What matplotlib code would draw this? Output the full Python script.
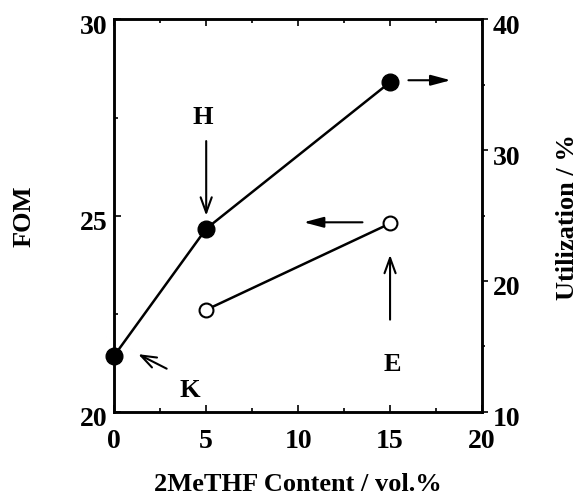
import matplotlib
matplotlib.use("Agg")
import matplotlib.pyplot as plt
from matplotlib.transforms import ScaledTranslation

plt.rcParams.update({
    "font.family": "serif",
    "font.serif": ["Liberation Serif", "DejaVu Serif"],
    "font.weight": "bold",
    "axes.labelweight": "bold",
    "font.size": 20,
})

# data
content_util = [0, 5, 15]
utilization = [14.3, 24.0, 35.2]
content_fom = [5, 15]
fom = [22.6, 24.8]

xticks = [0, 5, 10, 15, 20]
fom_ticks = [20, 25, 30]
util_ticks = [10, 20, 30, 40]

fig = plt.figure(figsize=(5.86, 4.98), dpi=100)
ax = fig.add_axes([0.195, 0.173, 0.6275, 0.788])
ax2 = ax.twinx()

# utilization (right axis), filled markers
ax2.plot(content_util, utilization, color="black", lw=1.8, marker="o",
         ms=12, mfc="black", mec="black", clip_on=False, zorder=3)
# FOM (left axis), open markers
ax.plot(content_fom, fom, color="black", lw=1.8, marker="o",
        ms=10, mfc="white", mec="black", mew=1.5, zorder=3)

ax.set_xlim(0, 20)
ax.set_ylim(20, 30)
ax2.set_ylim(10, 40)
ax.set_xticks(xticks)
ax.set_xticks([2.5, 7.5, 12.5, 17.5], minor=True)
ax.set_yticks(fom_ticks)
ax.set_yticks([22.5, 27.5], minor=True)
ax2.set_yticks(util_ticks)
ax2.set_yticks([15, 25, 35], minor=True)

for a in (ax, ax2):
    for s in a.spines.values():
        s.set_linewidth(1.8)

ax.tick_params(axis="x", which="both", direction="in", top=True, width=1.2, pad=12)
ax.tick_params(axis="x", which="major", length=5)
ax.tick_params(axis="x", which="minor", length=3)
ax.tick_params(axis="y", which="both", direction="in", width=1.2, pad=5)
ax.tick_params(axis="y", which="major", length=5)
ax.tick_params(axis="y", which="minor", length=3)
ax2.tick_params(axis="y", which="both", direction="out", width=1.2, pad=4)
ax2.tick_params(axis="y", which="major", length=4)
ax2.tick_params(axis="y", which="minor", length=2)

# y tick labels sit a bit low in the original
shift = ScaledTranslation(0, -3.5 / 72, fig.dpi_scale_trans)
for lab in ax.get_yticklabels() + ax2.get_yticklabels():
    lab.set_transform(lab.get_transform() + shift)

ax.set_xlabel("2MeTHF Content / vol.%", fontsize=19, fontweight="bold", labelpad=14)
fig.text(0.041, 0.565, "FOM", rotation=90, ha="center", va="center", fontsize=19)
fig.text(0.968, 0.565, "Utilization / %", rotation=90, ha="center", va="center",
         fontsize=19)

arrow = dict(arrowstyle="->,head_length=0.55,head_width=0.2", lw=1.5,
             color="black", shrinkA=0, shrinkB=0)
side = dict(arrowstyle="-|>,head_length=0.6,head_width=0.16", lw=1.5,
            color="black", shrinkA=0, shrinkB=0)
ax.annotate("", xy=(5, 25.0), xytext=(5, 26.9), arrowprops=arrow)
ax.text(4.8, 27.5, "H", ha="center", va="center", fontsize=19)
ax.annotate("", xy=(18.3, 28.45), xytext=(16.0, 28.45), arrowprops=side)
ax.annotate("", xy=(10.3, 24.83), xytext=(13.5, 24.83), arrowprops=side)
ax.annotate("", xy=(15, 24.0), xytext=(15, 22.35), arrowprops=arrow)
ax.text(15.1, 21.2, "E", ha="center", va="center", fontsize=19)
ax.annotate("", xy=(1.3, 21.47), xytext=(2.85, 21.1), arrowprops=arrow)
ax.text(4.1, 20.55, "K", ha="center", va="center", fontsize=19)

fig.savefig("out.png", dpi=100)
